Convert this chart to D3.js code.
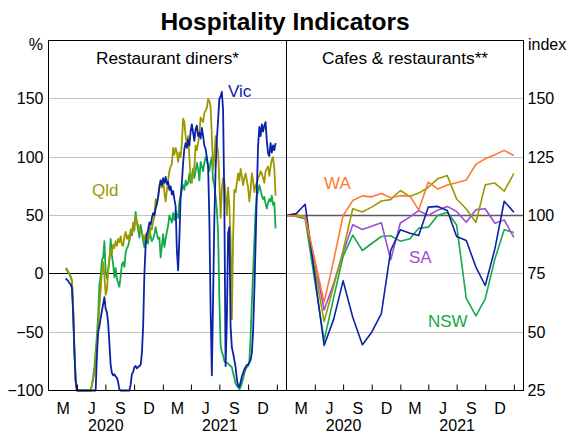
<!DOCTYPE html>
<html>
<head>
<meta charset="utf-8">
<script src="https://cdn.jsdelivr.net/npm/d3@7"></script>
<style>
  body { margin: 0; background: #fff; }
  text { font-family: "Liberation Sans", Arial, sans-serif; }
</style>
</head>
<body>
<div id="chart"></div>
<script>
/* LEFT PANEL DATA: restaurant diners, % change on 2019,
   one reading every 4 days from 25 Feb 2020 */
const dinerStart = new Date(2020, 1, 25);
const dinerStep = 4;

const vicDiners = [
  -4, -5, -6, -8, -9, -12, -35, -68, -92, -100,
  -100, -100, -100, -100, -100, -100, -100, -100, -100, -100,
  -100, -100, -100, -100, -100, -70, -50, -45, -38, -32,
  -26, -20, -30, -33, -42, -60, -78, -85, -87, -86,
  -88, -89, -93, -99, -100, -100, -100, -100, -100, -100,
  -100, -100, -95, -86, -84, -80, -79, -81, -80, -79,
  -78, -68, -45, 0, 24, 34, 38, 44, 42, 48,
  52, 50, 56, 60, 66, 74, 80, 76, 82, 78,
  83, 77, 79, 72, 75, 68, 71, 64, 58, 20,
  3, 30, 66, 78, 95, 107, 112, 108, 115, 110,
  122, 128, 121, 114, 124, 127, 118, 121, 116, 125,
  118, 110, 107, 100, 92, 47, -30, -87, -20, 47,
  90, 115, 132, 150, 152, 156, 140, 60, -79, -40,
  35, 40, -45, -63, -68, -74, -80, -90, -96, -97,
  -93, -88, -85, -82, -80, -78, -78, -76, -74, -68,
  -50, -15, 25, 70, 110, 126, 118, 128, 122, 127,
  130, 114, 103, 101, 112, 104, 110, 106, 112
];

const qldDiners = [
  5, 4, 2, 0, -2, -6, -30, -65, -92, -100,
  -100, -100, -100, -100, -100, -100, -100, -100, -100, -100,
  -100, -96, -90, -86, -74, -60, -45, -29, -14, 2,
  10, -2, -18, -14, 2, 14, 21, 18, 25, 22,
  28, 24, 30, 27, 32, 25, 24, 32, 36, 30,
  33, 28, 38, 35, 44, 37, 50, 44, 42, 37,
  36, 34, 33, 29, 34, 30, 33, 31, 40, 38,
  45, 49, 64, 60, 66, 76, 80, 74, 80, 70,
  62, 72, 80, 88, 92, 94, 108, 102, 108, 104,
  96, 104, 100, 112, 133, 130, 118, 112, 118, 100,
  82, 78, 86, 92, 110, 106, 112, 120, 134, 132,
  130, 138, 140, 142, 150, 148, 143, 118, 90, 100,
  118, 110, 104, 80, 48, 72, 82, 80, 68, 50,
  74, 58, 30, -39, 30, 72, 70, 78, 86, 80,
  90, 84, 76, 82, 86, 80, 74, 62, 72, 86,
  80, 70, 76, 78, 82, 84, 88, 86, 82, 78,
  88, 90, 92, 84, 92, 98, 100, 90, 67
];

const nswDiners = [
  4, 3, 1, 0, -3, -6, -30, -65, -92, -100,
  -100, -100, -100, -100, -100, -100, -100, -100, -100, -100,
  -100, -95, -88, -80, -66, -53, -35, -9, -2, 12,
  14, 28, 2, -4, 4, 11, 30, 16, 8, -3,
  5, -4, -8, -11, -2, 8, 10, 6, 18, 22,
  24, 29, 36, 33, 38, 42, 53, 44, 38, 31,
  42, 36, 28, 23, 30, 28, 26, 40, 32, 28,
  30, 34, 40, 34, 30, 31, 14, 24, 34, 23,
  30, 36, 41, 50, 47, 44, 52, 46, 54, 50,
  48, 62, 66, 72, 76, 72, 80, 76, 78, 86,
  78, 84, 90, 82, 88, 95, 90, 80, 96, 92,
  88, 95, 100, 98, 92, 88, 96, 100, 80, 76,
  66, 55, 35, -20, -61, -67, -70, -75, -76, -76,
  -77, -78, -79, -80, -85, -89, -94, -96, -97, -99,
  -97, -94, -90, -85, -82, -80, -79, -75, -55, -25,
  1, 28, 53, 67, 70, 76, 72, 67, 64, 66,
  60, 56, 61, 64, 62, 67, 59, 61, 39
];

/* RIGHT PANEL DATA: cafes & restaurants turnover index, monthly */
const months = [
  "2019-12", "2020-01", "2020-02", "2020-03", "2020-04", "2020-05", "2020-06",
  "2020-07", "2020-08", "2020-09", "2020-10", "2020-11", "2020-12",
  "2021-01", "2021-02", "2021-03", "2021-04", "2021-05", "2021-06",
  "2021-07", "2021-08", "2021-09", "2021-10", "2021-11", "2021-12"
];
const nswIndex = [100, 99.6, 98.6, 72, 46.5, 65, 82.5, 91.6, 85, 88, 91, 91.3, 89,
  90, 94.5, 95, 100, 101.4, 95.9, 64.5, 57, 64.3, 81.4, 93.9, 92.7];
const saIndex = [100, 100, 99.7, 80, 59.5, 71, 84, 96, 94, 95.4, 96.9, 81, 96.8,
  99.4, 102.1, 100, 102.3, 103.9, 101.7, 97.1, 102.5, 102.9, 96.7, 98.1, 90.6];
const qldIndex = [100, 100.3, 99.5, 77, 54.5, 70, 85, 102.9, 101.5, 103.6, 106.2, 106.8, 110.7,
  108.1, 109.6, 112.1, 115.7, 117.1, 107.1, 102.8, 97, 113.2, 113.9, 110.4, 118.1];
const vicIndex = [100, 100.8, 104.8, 74, 44.3, 55.7, 72, 56.4, 44.6, 50, 57.9, 85, 93.9,
  92.4, 91.4, 103.6, 103.9, 102.1, 91, 89.3, 77.9, 70, 85.7, 106.1, 101.4];
const waIndex = [100, 99.7, 99.6, 81, 62.9, 81, 100, 106.4, 108.4, 108, 109.4, 107.6, 108.5,
  108.3, 102.4, 114.3, 111.4, 113.1, 114, 115.2, 121.9, 124.3, 126, 127.9, 125.7];

/* TICK LABELS */
const leftTicks = [-100, -50, 0, 50, 100, 150];
const rightTicks = [25, 50, 75, 100, 125, 150];
const quarterLabels = ["M", "J", "S", "D", "M", "J", "S", "D"];
const yearLabels = ["2020", "2021"];

/* COLOURS */
const colVic = "#0b22a8";
const colQld = "#9c9900";
const colNsw = "#14a94b";
const colWa = "#ff7a30";
const colSa = "#9a4fd6";

/* CREATE THE SVG CANVAS */
const width = 570;
const height = 434;
const pLeft = 48.5, pMid = 286.5, pRight = 523.5, pTop = 40.5, pBottom = 390.5;

const svg = d3.select("#chart")
    .append("svg")
    .attr("width", width)
    .attr("height", height);

/* SCALES */
const t0 = new Date(2020, 0, 1);
const t1 = new Date(2022, 1, 1);
const xL = d3.scaleTime().domain([t0, t1]).range([pLeft, pMid]);
const xR = d3.scaleTime().domain([t0, t1]).range([pMid, pRight]);
const yL = d3.scaleLinear().domain([-100, 200]).range([pBottom, pTop]);
const yR = d3.scaleLinear().domain([25, 175]).range([pBottom, pTop]);

const crisp = v => Math.floor(v) + 0.5;

/* CLIP PATHS */
const defs = svg.append("defs");
defs.append("clipPath").attr("id", "clipL").append("rect")
    .attr("x", pLeft).attr("y", pTop).attr("width", pMid - pLeft).attr("height", pBottom - pTop + 2);
defs.append("clipPath").attr("id", "clipR").append("rect")
    .attr("x", pMid).attr("y", pTop).attr("width", pRight - pMid).attr("height", pBottom - pTop + 2);

/* GRIDLINES */
svg.append("g").selectAll("line")
    .data(leftTicks.filter(v => v !== -100))
    .join("line")
    .attr("x1", pLeft).attr("x2", pMid)
    .attr("y1", d => crisp(yL(d))).attr("y2", d => crisp(yL(d)))
    .attr("stroke", d => d === 0 ? "#000" : "#c4c4c4")
    .attr("stroke-width", 1);

svg.append("g").selectAll("line")
    .data(rightTicks.filter(v => v !== 25))
    .join("line")
    .attr("x1", pMid).attr("x2", pRight)
    .attr("y1", d => crisp(yR(d))).attr("y2", d => crisp(yR(d)))
    .attr("stroke", d => d === 100 ? "#5a5a5a" : "#c4c4c4")
    .attr("stroke-width", d => d === 100 ? 1.4 : 1);

/* LEFT PANEL LINES */
const dinerDates = vicDiners.map((_, i) => d3.timeDay.offset(dinerStart, i * dinerStep));

const lineL = d3.line()
    .x((d, i) => xL(dinerDates[i]))
    .y(d => yL(d));

const leftSeries = [
    { values: nswDiners, color: colNsw },
    { values: qldDiners, color: colQld },
    { values: vicDiners, color: colVic }
];

svg.append("g").attr("clip-path", "url(#clipL)")
    .selectAll("path")
    .data(leftSeries)
    .join("path")
    .attr("d", d => lineL(d.values))
    .attr("fill", "none")
    .attr("stroke", d => d.color)
    .attr("stroke-width", 1.8)
    .attr("stroke-linejoin", "round");

/* RIGHT PANEL LINES */
const parseMonth = d3.timeParse("%Y-%m");
const monthEnds = months.map(m => d3.timeMonth.offset(parseMonth(m), 1));

const lineR = d3.line()
    .x((d, i) => xR(monthEnds[i]))
    .y(d => yR(d));

const rightSeries = [
    { values: nswIndex, color: colNsw },
    { values: saIndex, color: colSa },
    { values: qldIndex, color: colQld },
    { values: vicIndex, color: colVic },
    { values: waIndex, color: colWa }
];

svg.append("g").attr("clip-path", "url(#clipR)")
    .selectAll("path")
    .data(rightSeries)
    .join("path")
    .attr("d", d => lineR(d.values))
    .attr("fill", "none")
    .attr("stroke", d => d.color)
    .attr("stroke-width", 1.6)
    .attr("stroke-linejoin", "round");

/* FRAME */
svg.append("rect")
    .attr("x", pLeft).attr("y", pTop)
    .attr("width", pRight - pLeft).attr("height", pBottom - pTop)
    .attr("fill", "none").attr("stroke", "#000").attr("stroke-width", 1);
svg.append("line")
    .attr("x1", pMid).attr("x2", pMid).attr("y1", pTop).attr("y2", pBottom)
    .attr("stroke", "#000").attr("stroke-width", 1);

/* X AXES */
const quarterStarts = d3.range(1, 9).map(i => d3.timeMonth.offset(t0, 3 * i));
const quarterMids = quarterLabels.map((q, i) => {
    const a = d3.timeMonth.offset(t0, 3 * i), b = d3.timeMonth.offset(t0, 3 * i + 3);
    return new Date((a.getTime() + b.getTime()) / 2);
});
const yearMids = yearLabels.map((y, i) => new Date(2020 + i, 6, 1));

function styleAxis(g, size) {
    g.select(".domain").remove();
    g.selectAll("text")
        .attr("font-family", "'Liberation Sans', Arial, sans-serif")
        .attr("font-size", size)
        .attr("fill", "#000");
    g.selectAll("line").attr("stroke", "#000");
}

[xL, xR].forEach(x => {
    svg.append("g")
        .attr("transform", `translate(0,${pBottom})`)
        .call(d3.axisBottom(x).tickValues(quarterStarts).tickSize(-6).tickFormat(""))
        .call(g => styleAxis(g, 16));

    svg.append("g")
        .attr("transform", `translate(0,${pBottom})`)
        .call(d3.axisBottom(x).tickValues(quarterMids).tickSize(0).tickPadding(12)
            .tickFormat((d, i) => quarterLabels[i]))
        .call(g => styleAxis(g, 16));

    svg.append("g")
        .attr("transform", `translate(0,${pBottom})`)
        .call(d3.axisBottom(x).tickValues(yearMids).tickSize(0).tickPadding(29)
            .tickFormat((d, i) => yearLabels[i]))
        .call(g => styleAxis(g, 16));
});

/* Y AXES */
svg.append("g")
    .attr("transform", `translate(${pLeft},0)`)
    .call(d3.axisLeft(yL).tickValues(leftTicks).tickSize(0).tickPadding(5))
    .call(g => styleAxis(g, 16));

svg.append("g")
    .attr("transform", `translate(${pRight},0)`)
    .call(d3.axisRight(yR).tickValues(rightTicks).tickSize(0).tickPadding(4))
    .call(g => styleAxis(g, 16));

/* TEXTS */
svg.append("text")
    .attr("x", width / 2).attr("y", 30)
    .attr("text-anchor", "middle")
    .attr("font-size", 24.5).attr("font-weight", "bold")
    .text("Hospitality Indicators");

svg.append("text").attr("x", 43).attr("y", 50)
    .attr("text-anchor", "end").attr("font-size", 16).text("%");
svg.append("text").attr("x", 528).attr("y", 50)
    .attr("text-anchor", "start").attr("font-size", 16).text("index");

svg.append("text").attr("x", (pLeft + pMid) / 2).attr("y", 64)
    .attr("text-anchor", "middle").attr("font-size", 17.3).text("Restaurant diners*");
svg.append("text").attr("x", (pMid + pRight) / 2).attr("y", 64)
    .attr("text-anchor", "middle").attr("font-size", 17.3).text("Cafes & restaurants**");

const seriesLabels = [
    { text: "Vic", x: 228, y: 97, color: colVic },
    { text: "Qld", x: 92, y: 196, color: colQld },
    { text: "WA", x: 324, y: 189, color: colWa },
    { text: "SA", x: 409, y: 263, color: colSa },
    { text: "NSW", x: 428, y: 327, color: colNsw }
];
svg.append("g").selectAll("text")
    .data(seriesLabels)
    .join("text")
    .attr("x", d => d.x).attr("y", d => d.y)
    .attr("font-size", 17)
    .attr("fill", d => d.color)
    .text(d => d.text);
</script>
</body>
</html>
